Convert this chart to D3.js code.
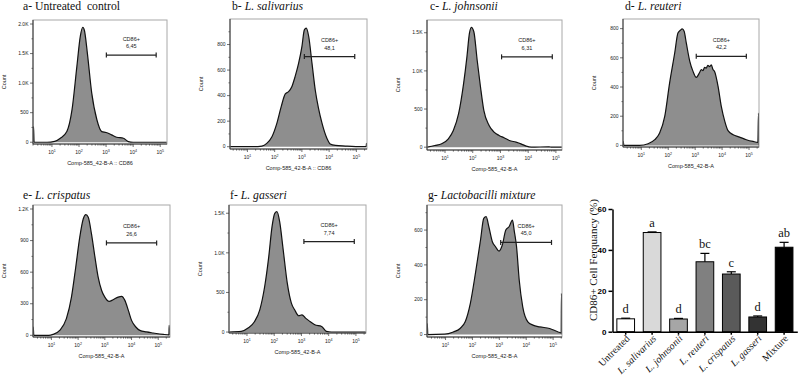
<!DOCTYPE html>
<html lang="en">
<head>
<meta charset="UTF-8">
<title>CD86 expression</title>
<script src="https://d3js.org/d3.v7.min.js"></script>
<style>
  body { margin: 0; background: #fff; }
  svg { display: block; }
</style>
</head>
<body>
<script>
// ---- histogram panels ----
const panelLetters = ["a- ", "b- ", "c- ", "d- ", "e- ", "f- ", "g- "];
const panelNames = ["Untreated  control", "L. salivarius", "L. johnsonii", "L. reuteri",
                    "L. crispatus", "L. gasseri", "Lactobacilli mixture"];
const panelItalic = [false, true, true, true, true, true, true];
const xTitles = ["Comp-585_42-B-A :: CD86", "Comp-585_42-B-A :: CD86", "Comp-585_42-B-A",
                 "Comp-585_42-B-A", "Comp-585_42-B-A", "Comp-585_42-B-A", "Comp-585_42-B-A"];

const yTickVals = [[0, 500, 1000, 1500, 2000], [0, 200, 400, 600, 800], [0, 500, 1000, 1500],
                   [0, 200, 400, 600, 800], [0, 300, 600, 900, 1200], [0, 500, 1000, 1500],
                   [0, 200, 400, 600]];
const yTickText = [["0", "500", "1.0K", "1.5K", "2.0K"], ["0", "200", "400", "600", "800"],
                   ["0", "500", "1.0K", "1.5K"], ["0", "200", "400", "600", "800"],
                   ["0", "300", "600", "900", "1.2K"], ["0", "500", "1.0K", "1.5K"],
                   ["0", "200", "400", "600"]];
const yMins = [-30, -18, -37, -11, -16, -12, -14];
const yMaxes = [2068, 1000, 1667, 866, 1238, 1604, 744];

const gateFrom = [3.01, 3.09, 3.04, 3.04, 3.06, 3.09, 3.05];
const gateTo = [4.85, 4.94, 4.87, 4.9, 4.94, 4.94, 4.94];
const gateLevel = [1475, 706, 1184, 610, 878, 1142, 529];
const gatePct = ["6,45", "48,1", "6,31", "42,2", "26,6", "7,74", "45,0"];

// [log10 intensity, count]
const curveA = [[0.3,0],[0.32,265],[0.34,0],[0.82,0],[1.1,15],[1.31,68],[1.55,180],[1.74,546],
  [1.92,1280],[2.05,1800],[2.14,1945],[2.2,1890],[2.31,1500],[2.47,830],[2.66,380],[2.84,180],
  [3.0,165],[3.2,125],[3.39,85],[3.64,68],[3.82,11],[4.0,0],[5.25,0]];
const curveB = [[0.36,0],[1.22,0],[1.53,5],[1.71,26],[1.9,78],[2.08,183],[2.24,314],[2.39,413],
  [2.51,431],[2.63,470],[2.75,549],[2.88,654],[3.0,784],[3.09,915],[3.16,928],[3.25,863],
  [3.37,654],[3.49,444],[3.61,300],[3.74,183],[3.92,65],[4.04,21],[4.23,10],[4.6,5],[5.21,0],
  [5.36,0],[5.37,26],[5.39,0]];
const curveC = [[0.35,0],[0.63,22],[0.88,44],[1.12,110],[1.3,219],[1.49,439],[1.67,833],
  [1.79,1184],[1.88,1491],[1.95,1570],[2.04,1513],[2.16,1140],[2.28,789],[2.4,482],[2.59,285],
  [2.77,197],[2.95,154],[3.13,123],[3.32,88],[3.56,66],[3.74,44],[3.93,13],[4.11,0],[4.75,5],
  [4.85,0],[5.22,0]];
const curveD = [[0.32,0],[0.33,27],[0.35,0],[0.94,0],[1.25,11],[1.5,39],[1.68,85],[1.87,199],
  [2.05,427],[2.24,633],[2.36,770],[2.45,789],[2.52,798],[2.59,782],[2.67,702],[2.8,576],
  [2.92,507],[3.04,466],[3.17,501],[3.23,520],[3.29,512],[3.35,535],[3.41,530],[3.47,548],
  [3.54,540],[3.6,552],[3.66,520],[3.72,507],[3.85,405],[3.97,267],[4.1,165],[4.22,101],
  [4.41,73],[4.65,57],[4.9,39],[5.15,27],[5.33,21],[5.35,222],[5.37,0]];
const curveE = [[0.31,0],[0.32,79],[0.34,0],[0.9,0],[1.06,9],[1.31,47],[1.56,158],[1.75,363],
  [1.91,647],[2.06,931],[2.19,1105],[2.29,1146],[2.38,1121],[2.5,963],[2.63,742],[2.75,553],
  [2.88,426],[3.0,363],[3.16,322],[3.31,338],[3.5,363],[3.63,370],[3.75,332],[3.88,237],
  [4.0,142],[4.16,79],[4.31,47],[4.56,32],[4.81,22],[5.19,9],[5.4,5],[5.41,95],[5.43,0]];
const curveF = [[0.34,0],[0.79,8],[1.04,50],[1.28,134],[1.47,281],[1.65,575],[1.8,953],
  [1.92,1331],[2.02,1499],[2.1,1520],[2.2,1394],[2.33,1037],[2.48,617],[2.63,365],[2.75,281],
  [2.9,206],[3.02,218],[3.15,176],[3.31,134],[3.49,92],[3.74,71],[3.92,8],[4.1,0],[5.37,0]];
const curveG = [[0.31,0],[0.32,63],[0.34,0],[0.97,2],[1.29,15],[1.54,35],[1.73,73],[1.92,178],
  [2.11,351],[2.3,543],[2.42,667],[2.51,677],[2.61,619],[2.74,533],[2.86,504],[2.99,479],
  [3.11,514],[3.24,600],[3.36,619],[3.49,657],[3.55,600],[3.64,504],[3.74,312],[3.87,159],
  [4.06,73],[4.25,54],[4.5,44],[4.87,35],[5.19,15],[5.3,10],[5.31,236],[5.33,0]];
const curves = [curveA, curveB, curveC, curveD, curveE, curveF, curveG];

// ---- bar chart ----
const barLabels = ["Untreated", "L. salivarius", "L. johnsonii", "L. reuteri",
                   "L. crispatus", "L. gasseri", "Mixture"];
const barValues = [6.3, 48.5, 6.2, 34.2, 28.2, 7.2, 41.3];
const barErrors = [0.3, 0.3, 0.3, 4.1, 1.1, 0.5, 2.4];
const barLetters = ["d", "a", "d", "bc", "c", "d", "ab"];
const barColors = ["#ffffff", "#d9d9d9", "#a6a6a6", "#808080", "#5a5a5a", "#333333", "#000000"];

// panel boxes
const layout = [
  {x0: 33, x1: 167, y0: 20, y1: 144, lo: 0.3, hi: 5.25, tx: 23, ty: 10},
  {x0: 230, x1: 367, y0: 19, y1: 149, lo: 0.36, hi: 5.39, tx: 232, ty: 10},
  {x0: 427, x1: 562, y0: 20, y1: 150, lo: 0.35, hi: 5.22, tx: 430, ty: 10},
  {x0: 623, x1: 759, y0: 19, y1: 147, lo: 0.32, hi: 5.37, tx: 625, ty: 10},
  {x0: 33, x1: 170, y0: 205, y1: 337, lo: 0.31, hi: 5.44, tx: 23, ty: 199},
  {x0: 229, x1: 366, y0: 205, y1: 333, lo: 0.34, hi: 5.37, tx: 230, ty: 199},
  {x0: 427, x1: 562, y0: 205, y1: 337, lo: 0.31, hi: 5.33, tx: 428, ty: 199}
];

const width = 798, height = 379;
const svg = d3.select("body").append("svg")
  .attr("width", width).attr("height", height);

const sans = "Liberation Sans, Arial, sans-serif";
const serif = "Liberation Serif, Times New Roman, serif";

layout.forEach(function(L, i) {
  const g = svg.append("g");
  const x = d3.scaleLinear().domain([L.lo, L.hi]).range([L.x0, L.x1]);
  const y = d3.scaleLinear().domain([yMins[i], yMaxes[i]]).range([L.y1, L.y0]);

  g.append("clipPath").attr("id", "clip" + i)
    .append("rect").attr("x", L.x0).attr("y", L.y0)
    .attr("width", L.x1 - L.x0).attr("height", L.y1 - L.y0);

  const area = d3.area()
    .x(d => x(d[0])).y0(y(0)).y1(d => y(d[1]))
    .curve(d3.curveMonotoneX);
  const line = d3.line()
    .x(d => x(d[0])).y(d => y(d[1]))
    .curve(d3.curveMonotoneX);

  g.append("path").datum(curves[i])
    .attr("clip-path", "url(#clip" + i + ")")
    .attr("d", area).attr("fill", "#8e8e8e");
  g.append("path").datum(curves[i])
    .attr("clip-path", "url(#clip" + i + ")")
    .attr("d", line).attr("fill", "none")
    .attr("stroke", "#111").attr("stroke-width", 1.2);

  // frame + axes
  g.append("rect").attr("x", L.x0).attr("y", L.y0)
    .attr("width", L.x1 - L.x0).attr("height", L.y1 - L.y0)
    .attr("fill", "none").attr("stroke", "#a8a8a8").attr("stroke-width", 1);
  g.append("line").attr("x1", L.x0).attr("x2", L.x0).attr("y1", L.y0).attr("y2", L.y1)
    .attr("stroke", "#333").attr("stroke-width", 1);
  g.append("line").attr("x1", L.x0).attr("x2", L.x1).attr("y1", L.y1).attr("y2", L.y1)
    .attr("stroke", "#333").attr("stroke-width", 1);

  // x ticks (log decades)
  for (let k = 0; k <= 5; k++) {
    for (let m = 1; m <= 9; m++) {
      const v = k + Math.log10(m);
      if (v < L.lo || v > L.hi) continue;
      const major = m === 1;
      g.append("line").attr("x1", x(v)).attr("x2", x(v))
        .attr("y1", L.y1).attr("y2", L.y1 + (major ? 3 : 1.6))
        .attr("stroke", "#333").attr("stroke-width", 0.7);
      if (major && k >= 1) {
        const t = g.append("text").attr("x", x(v)).attr("y", L.y1 + 10)
          .attr("text-anchor", "middle").attr("font-family", sans)
          .attr("font-size", 5).attr("fill", "#222");
        t.append("tspan").text("10");
        t.append("tspan").attr("dy", -2.5).attr("font-size", 3.6).text(k);
      }
    }
  }

  // y ticks
  const yStep = yTickVals[i][1] - yTickVals[i][0];
  yTickVals[i].forEach(function(v, j) {
    g.append("line").attr("x1", L.x0 - 3).attr("x2", L.x0)
      .attr("y1", y(v)).attr("y2", y(v))
      .attr("stroke", "#333").attr("stroke-width", 0.7);
    const mv = v + yStep / 2;
    if (y(mv) > L.y0) {
      g.append("line").attr("x1", L.x0 - 1.6).attr("x2", L.x0)
        .attr("y1", y(mv)).attr("y2", y(mv))
        .attr("stroke", "#333").attr("stroke-width", 0.6);
    }
    g.append("text").attr("x", L.x0 - 4.5).attr("y", y(v))
      .attr("dy", "0.35em").attr("text-anchor", "end")
      .attr("font-family", sans).attr("font-size", 5).attr("fill", "#222")
      .text(yTickText[i][j]);
  });

  // axis titles
  g.append("text")
    .attr("transform", "translate(" + (L.x0 - 27) + "," + ((L.y0 + L.y1) / 2) + ") rotate(-90)")
    .attr("text-anchor", "middle").attr("font-family", sans)
    .attr("font-size", 5.5).attr("fill", "#222").text("Count");
  g.append("text").attr("x", (L.x0 + L.x1) / 2).attr("y", L.y1 + 21)
    .attr("text-anchor", "middle").attr("font-family", sans)
    .attr("font-size", 5.5).attr("fill", "#222").text(xTitles[i]);

  // gate
  const gy = y(gateLevel[i]);
  const ga = x(gateFrom[i]), gb = x(gateTo[i]);
  g.append("line").attr("x1", ga).attr("x2", gb).attr("y1", gy).attr("y2", gy)
    .attr("stroke", "#222").attr("stroke-width", 1.2);
  [ga, gb].forEach(function(px) {
    g.append("line").attr("x1", px).attr("x2", px).attr("y1", gy - 2.5).attr("y2", gy + 2.5)
      .attr("stroke", "#222").attr("stroke-width", 1.2);
  });
  const gc = (ga + gb) / 2;
  g.append("text").attr("x", gc).attr("y", gy - 14.5).attr("text-anchor", "middle")
    .attr("font-family", sans).attr("font-size", 5.5).attr("fill", "#222").text("CD86+");
  g.append("text").attr("x", gc).attr("y", gy - 7).attr("text-anchor", "middle")
    .attr("font-family", sans).attr("font-size", 5.5).attr("fill", "#222").text(gatePct[i]);

  // panel title
  const title = g.append("text").attr("x", L.tx).attr("y", L.ty)
    .attr("font-family", serif).attr("font-size", 11.7).attr("fill", "#111")
    .attr("xml:space", "preserve");
  title.append("tspan").text(panelLetters[i]);
  title.append("tspan").attr("font-style", panelItalic[i] ? "italic" : "normal")
    .text(panelNames[i]);
});

// ---- bar chart ----
const bx = d3.scaleBand().domain(barLabels).range([612.5, 797.3])
  .paddingInner(0.33).paddingOuter(0.165);
const by = d3.scaleLinear().domain([0, 60]).range([331.7, 209]);
const bars = svg.append("g");

bars.selectAll("rect.bar").data(barLabels).enter().append("rect")
  .attr("class", "bar")
  .attr("x", d => bx(d)).attr("width", bx.bandwidth())
  .attr("y", (d, i) => by(barValues[i]))
  .attr("height", (d, i) => by(0) - by(barValues[i]))
  .attr("fill", (d, i) => barColors[i])
  .attr("stroke", "#000").attr("stroke-width", 1);

barLabels.forEach(function(d, i) {
  const cx = bx(d) + bx.bandwidth() / 2;
  const top = by(barValues[i] + barErrors[i]);
  bars.append("line").attr("x1", cx).attr("x2", cx)
    .attr("y1", by(barValues[i])).attr("y2", top)
    .attr("stroke", "#000").attr("stroke-width", 1.2);
  bars.append("line").attr("x1", cx - 4.5).attr("x2", cx + 4.5)
    .attr("y1", top).attr("y2", top)
    .attr("stroke", "#000").attr("stroke-width", 1.2);
  bars.append("text").attr("x", cx).attr("y", top - 5)
    .attr("text-anchor", "middle").attr("font-family", serif)
    .attr("font-size", 12.5).attr("fill", "#111").text(barLetters[i]);
});

const yAxisG = bars.append("g").attr("transform", "translate(612.5,0)")
  .call(d3.axisLeft(by).tickValues([0, 20, 40, 60]).tickSize(4).tickSizeOuter(0).tickPadding(2));
yAxisG.selectAll("path, line").attr("stroke", "#000").attr("stroke-width", 1.5);
yAxisG.selectAll("text").attr("font-family", sans).attr("font-weight", "bold")
  .attr("font-size", 8).attr("fill", "#000");

const xAxisG = bars.append("g").attr("transform", "translate(0,331.7)")
  .call(d3.axisBottom(bx).tickSize(3).tickSizeOuter(0));
xAxisG.selectAll("path, line").attr("stroke", "#000").attr("stroke-width", 1.5);
xAxisG.selectAll("text")
  .attr("x", -2).attr("y", 5).attr("dy", "0.35em")
  .attr("text-anchor", "end").attr("transform", "rotate(-45)")
  .attr("font-family", serif).attr("font-size", 10).attr("fill", "#111")
  .attr("font-style", d => (d === "Untreated" || d === "Mixture") ? "normal" : "italic");

svg.append("text")
  .attr("transform", "translate(592.7,260) rotate(-90)")
  .attr("dy", "0.35em").attr("text-anchor", "middle")
  .attr("font-family", serif).attr("font-size", 11).attr("fill", "#111")
  .text("CD86+ Cell Ferquancy (%)");
</script>
</body>
</html>
